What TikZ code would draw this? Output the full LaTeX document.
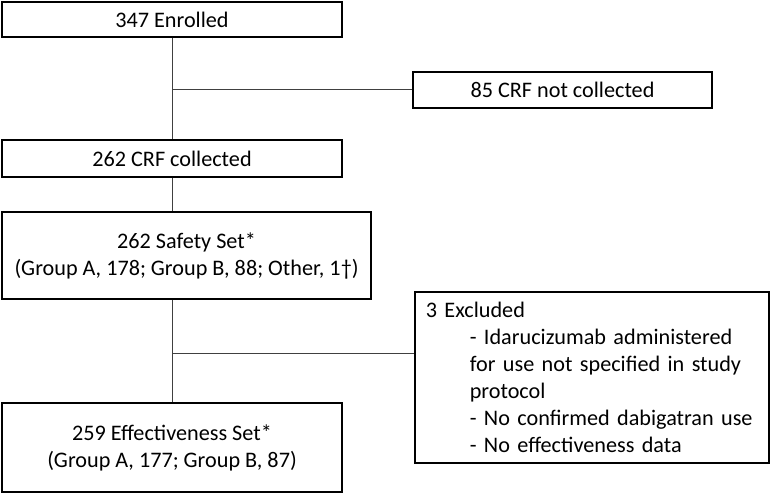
\documentclass[tikz,border=0pt]{standalone}
\usepackage{fontspec}
\setmainfont{Carlito}
\begin{document}
\begin{tikzpicture}[x=1pt, y=-1pt,
    box/.style={draw, line width=1.6pt, inner sep=0pt, align=center,
      font=\fontsize{22.2}{27}\selectfont},
    link/.style={line width=1pt, black!75}]
    \useasboundingbox (0,0) rectangle (770,494);
    % Draw nodes
    \node[box, minimum width=340, minimum height=35] (enrolled) at (172, 19.5) {347 Enrolled};
    \node[box, minimum width=299, minimum height=36] (notcoll) at (562.5, 90) {85 CRF not collected};
    \node[box, minimum width=340, minimum height=37] (crf) at (172, 158.5) {262 CRF collected};
    \node[box, minimum width=369, minimum height=87] (safety) at (186.5, 255.5)
      {262 Safety Set*\\(Group A, 178; Group B, 88; Other, 1†)};
    \node[box, minimum width=340, minimum height=89] (effect) at (172, 447.5)
      {259 Effectiveness Set*\\(Group A, 177; Group B, 87)};
    \node[box, anchor=north west, align=left, inner xsep=11pt, text width=332pt,
      minimum height=171] (excluded) at (414, 291)
      {3 Excluded\\
       \hspace*{44pt}- Idarucizumab administered\\
       \hspace*{44pt}for use not specified in study\\
       \hspace*{44pt}protocol\\
       \hspace*{44pt}- No confirmed dabigatran use\\
       \hspace*{44pt}- No effectiveness data};
    \coordinate (split1) at (172, 90);
    \coordinate (split2) at (172, 353);

    % Draw edges
    \draw[link] (enrolled) -- (crf);
    \draw[link] (split1) -- (notcoll);
    \draw[link] (crf) -- (crf.south |- safety.north);
    \draw[link] (safety.south -| effect.north) -- (effect);
    \draw[link] (split2) -- (excluded.west |- split2);
\end{tikzpicture}
\end{document}
